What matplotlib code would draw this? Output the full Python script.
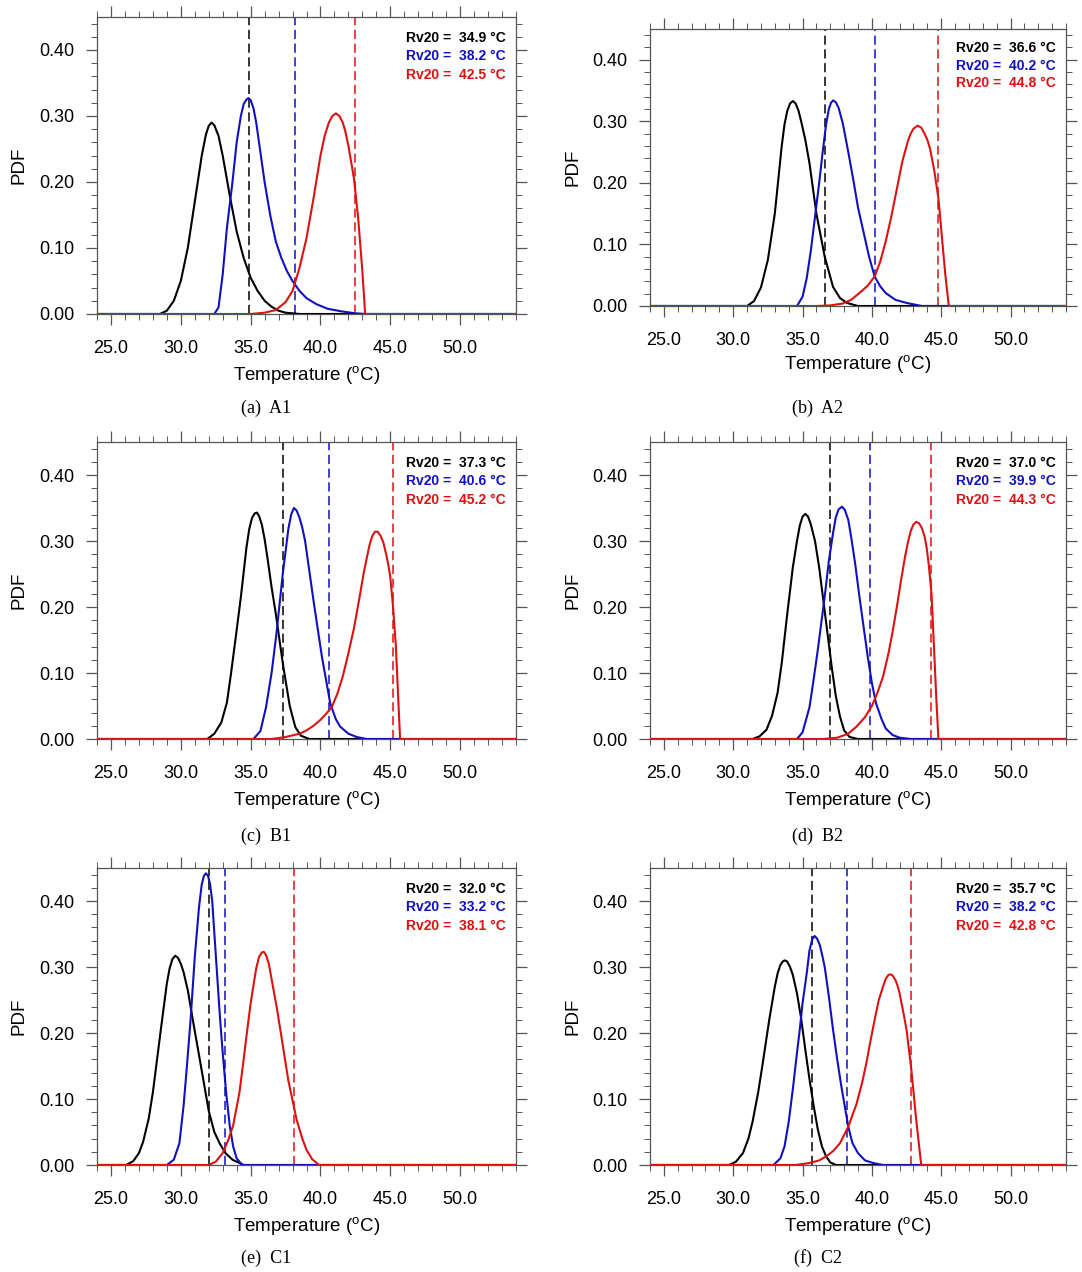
import matplotlib
matplotlib.use("Agg")
import matplotlib.pyplot as plt
from matplotlib.ticker import MultipleLocator, FormatStrFormatter

plt.rcParams['font.family'] = ['Liberation Sans', 'DejaVu Sans']
plt.rcParams['mathtext.fontset'] = 'custom'
plt.rcParams['mathtext.rm'] = 'Liberation Sans'

# ---------------- data ----------------
panels = ['A1', 'A2', 'B1', 'B2', 'C1', 'C2']
letters = ['a', 'b', 'c', 'd', 'e', 'f']

# Rv20 values (black, blue, red)
rv20 = {
    'A1': [34.9, 38.2, 42.5],
    'A2': [36.6, 40.2, 44.8],
    'B1': [37.3, 40.6, 45.2],
    'B2': [37.0, 39.9, 44.3],
    'C1': [32.0, 33.2, 38.1],
    'C2': [35.7, 38.2, 42.8],
}

# A1
a1_black_t = [28.5, 29.0, 29.5, 30.0, 30.5, 31.0, 31.5, 31.8, 32.0, 32.2, 32.4, 32.7, 33.0, 33.5, 34.0, 34.5, 35.0, 35.5, 36.0, 36.5, 37.0, 37.5, 38.5]
a1_black_p = [0.0, 0.005, 0.02, 0.05, 0.10, 0.17, 0.24, 0.272, 0.285, 0.29, 0.286, 0.27, 0.24, 0.18, 0.125, 0.085, 0.055, 0.035, 0.02, 0.011, 0.005, 0.002, 0.0]
a1_blue_t = [32.4, 32.7, 33.0, 33.3, 33.7, 34.0, 34.3, 34.5, 34.7, 34.85, 35.0, 35.2, 35.4, 35.7, 36.0, 36.4, 36.8, 37.2, 37.6, 38.0, 38.5, 39.0, 39.7, 40.5, 41.5, 42.5, 43.2]
a1_blue_p = [0.0, 0.01, 0.06, 0.13, 0.20, 0.26, 0.30, 0.318, 0.325, 0.327, 0.324, 0.312, 0.29, 0.245, 0.20, 0.15, 0.11, 0.085, 0.065, 0.05, 0.035, 0.024, 0.015, 0.008, 0.004, 0.001, 0.0]
a1_red_t = [35.0, 36.0, 36.8, 37.5, 38.0, 38.5, 39.0, 39.5, 40.0, 40.3, 40.6, 40.85, 41.1, 41.35, 41.6, 41.8, 42.0, 42.4, 42.7, 43.0, 43.2]
a1_red_p = [0.0, 0.002, 0.006, 0.018, 0.035, 0.07, 0.115, 0.175, 0.24, 0.27, 0.29, 0.30, 0.304, 0.30, 0.29, 0.275, 0.255, 0.205, 0.145, 0.065, 0.0]

# A2
a2_black_t = [31.0, 31.5, 32.0, 32.5, 33.0, 33.5, 33.7, 33.9, 34.1, 34.3, 34.5, 34.7, 34.9, 35.2, 35.5, 36.0, 36.6, 37.2, 37.7, 38.2, 39.0]
a2_black_p = [0.0, 0.008, 0.03, 0.075, 0.15, 0.26, 0.295, 0.317, 0.329, 0.333, 0.329, 0.318, 0.30, 0.27, 0.232, 0.15, 0.08, 0.031, 0.013, 0.005, 0.0]
a2_blue_t = [34.6, 35.0, 35.3, 35.6, 35.9, 36.2, 36.45, 36.7, 36.9, 37.05, 37.2, 37.4, 37.6, 37.9, 38.3, 38.7, 39.0, 39.4, 39.8, 40.2, 40.6, 41.0, 41.7, 42.5, 43.6]
a2_blue_p = [0.0, 0.015, 0.045, 0.09, 0.145, 0.20, 0.25, 0.295, 0.32, 0.33, 0.334, 0.331, 0.322, 0.297, 0.25, 0.20, 0.16, 0.12, 0.08, 0.048, 0.032, 0.021, 0.01, 0.005, 0.0]
a2_red_t = [36.0, 37.0, 37.9, 38.5, 39.1, 39.7, 40.2, 40.6, 41.0, 41.4, 41.8, 42.2, 42.6, 42.8, 43.0, 43.3, 43.55, 43.8, 44.0, 44.2, 44.5, 44.8, 45.1, 45.3, 45.55]
a2_red_p = [0.0, 0.001, 0.004, 0.01, 0.021, 0.033, 0.048, 0.072, 0.105, 0.145, 0.19, 0.235, 0.268, 0.28, 0.288, 0.293, 0.29, 0.28, 0.27, 0.255, 0.22, 0.175, 0.10, 0.05, 0.0]

# B1
b1_black_t = [31.9, 32.4, 32.9, 33.3, 33.6, 34.0, 34.3, 34.7, 34.9, 35.1, 35.3, 35.45, 35.6, 35.8, 36.0, 36.2, 36.5, 36.8, 37.3, 37.8, 38.2, 38.6, 39.2]
b1_black_p = [0.0, 0.008, 0.025, 0.055, 0.10, 0.165, 0.215, 0.29, 0.318, 0.335, 0.342, 0.343, 0.338, 0.325, 0.303, 0.275, 0.23, 0.19, 0.115, 0.05, 0.018, 0.005, 0.0]
b1_blue_t = [35.2, 35.7, 36.1, 36.5, 36.85, 37.3, 37.7, 37.9, 38.1, 38.3, 38.5, 38.7, 38.9, 39.2, 39.5, 40.1, 40.7, 41.1, 41.4, 42.0, 42.6, 43.3]
b1_blue_p = [0.0, 0.012, 0.048, 0.10, 0.16, 0.25, 0.318, 0.34, 0.35, 0.346, 0.335, 0.32, 0.30, 0.255, 0.21, 0.125, 0.054, 0.03, 0.019, 0.008, 0.003, 0.0]
b1_red_t = [36.5, 37.5, 38.5, 39.0, 39.5, 40.0, 40.4, 40.8, 41.2, 41.6, 42.0, 42.4, 42.8, 43.1, 43.5, 43.7, 43.9, 44.1, 44.3, 44.5, 44.7, 44.85, 45.0, 45.2, 45.4, 45.55, 45.7]
b1_red_p = [0.0, 0.003, 0.008, 0.013, 0.02, 0.029, 0.038, 0.048, 0.068, 0.095, 0.13, 0.168, 0.215, 0.252, 0.293, 0.307, 0.314, 0.314, 0.308, 0.298, 0.28, 0.265, 0.245, 0.20, 0.14, 0.07, 0.0]

# B2
b2_black_t = [31.4, 31.9, 32.4, 32.8, 33.2, 33.5, 33.9, 34.3, 34.6, 34.8, 35.0, 35.2, 35.4, 35.6, 35.9, 36.2, 36.5, 37.1, 37.4, 37.7, 38.0, 38.4, 39.0]
b2_black_p = [0.0, 0.004, 0.014, 0.035, 0.07, 0.115, 0.19, 0.26, 0.30, 0.323, 0.337, 0.341, 0.337, 0.325, 0.30, 0.26, 0.21, 0.11, 0.065, 0.034, 0.013, 0.003, 0.0]
b2_blue_t = [34.6, 35.0, 35.5, 35.8, 36.1, 36.6, 36.9, 37.2, 37.4, 37.6, 37.85, 38.05, 38.3, 38.5, 38.8, 39.1, 39.7, 40.0, 40.3, 40.7, 41.0, 41.5, 42.0, 42.8]
b2_blue_p = [0.0, 0.01, 0.048, 0.09, 0.135, 0.216, 0.27, 0.312, 0.336, 0.348, 0.352, 0.347, 0.332, 0.307, 0.265, 0.216, 0.125, 0.085, 0.054, 0.03, 0.016, 0.006, 0.002, 0.0]
b2_red_t = [36.5, 37.5, 38.3, 38.9, 39.5, 40.0, 40.4, 40.8, 41.2, 41.5, 41.8, 42.1, 42.4, 42.6, 42.8, 43.0, 43.2, 43.4, 43.6, 43.8, 43.95, 44.1, 44.3, 44.5, 44.65, 44.8]
b2_red_p = [0.0, 0.002, 0.008, 0.019, 0.033, 0.05, 0.07, 0.094, 0.13, 0.163, 0.20, 0.24, 0.277, 0.298, 0.315, 0.325, 0.329, 0.327, 0.32, 0.307, 0.29, 0.265, 0.22, 0.13, 0.06, 0.0]

# C1
c1_black_t = [26.1, 26.6, 27.0, 27.3, 27.7, 28.0, 28.3, 28.6, 29.0, 29.2, 29.4, 29.6, 29.8, 30.0, 30.2, 30.5, 30.9, 31.4, 32.0, 32.4, 32.8, 33.2, 33.7, 34.5]
c1_black_p = [0.0, 0.006, 0.018, 0.035, 0.07, 0.11, 0.16, 0.21, 0.275, 0.298, 0.312, 0.317, 0.314, 0.305, 0.292, 0.265, 0.215, 0.155, 0.082, 0.05, 0.032, 0.018, 0.008, 0.0]
c1_blue_t = [29.0, 29.5, 29.9, 30.2, 30.4, 30.7, 31.0, 31.3, 31.5, 31.65, 31.8, 31.95, 32.1, 32.25, 32.5, 32.8, 33.0, 33.25, 33.5, 33.75, 34.0, 34.4]
c1_blue_p = [0.0, 0.008, 0.033, 0.09, 0.14, 0.22, 0.315, 0.39, 0.425, 0.438, 0.442, 0.438, 0.425, 0.40, 0.32, 0.225, 0.17, 0.109, 0.06, 0.028, 0.01, 0.0]
c1_red_t = [32.0, 32.5, 33.0, 33.4, 33.75, 34.2, 34.5, 34.7, 35.0, 35.2, 35.4, 35.6, 35.8, 35.95, 36.1, 36.3, 36.6, 36.9, 37.2, 37.7, 38.3, 38.7, 39.0, 39.4, 39.9]
c1_red_p = [0.0, 0.005, 0.018, 0.038, 0.06, 0.11, 0.16, 0.195, 0.245, 0.272, 0.298, 0.315, 0.322, 0.323, 0.318, 0.305, 0.27, 0.235, 0.195, 0.128, 0.068, 0.04, 0.023, 0.009, 0.0]

# C2
c2_black_t = [29.7, 30.2, 30.7, 31.1, 31.4, 31.8, 32.1, 32.6, 33.0, 33.2, 33.4, 33.6, 33.75, 33.9, 34.1, 34.3, 34.6, 34.9, 35.2, 35.5, 35.8, 36.1, 36.4, 36.7, 37.0, 37.4]
c2_black_p = [0.0, 0.005, 0.018, 0.04, 0.066, 0.11, 0.15, 0.22, 0.27, 0.29, 0.303, 0.309, 0.31, 0.308, 0.30, 0.288, 0.26, 0.222, 0.175, 0.13, 0.09, 0.054, 0.028, 0.013, 0.004, 0.0]
c2_blue_t = [32.9, 33.4, 33.7, 34.0, 34.3, 34.6, 34.8, 35.0, 35.3, 35.5, 35.7, 35.87, 36.05, 36.25, 36.45, 36.6, 36.9, 37.2, 37.5, 37.8, 38.3, 38.6, 39.0, 39.5, 40.1, 40.8]
c2_blue_p = [0.0, 0.01, 0.028, 0.065, 0.115, 0.17, 0.205, 0.245, 0.29, 0.325, 0.342, 0.347, 0.343, 0.333, 0.315, 0.30, 0.255, 0.205, 0.16, 0.119, 0.058, 0.033, 0.018, 0.007, 0.003, 0.0]
c2_red_t = [34.5, 35.5, 36.2, 36.7, 37.2, 37.7, 38.3, 38.9, 39.3, 39.6, 39.9, 40.2, 40.5, 40.8, 41.0, 41.2, 41.35, 41.5, 41.7, 41.85, 42.0, 42.3, 42.5, 42.85, 43.2, 43.4, 43.56]
c2_red_p = [0.0, 0.003, 0.007, 0.013, 0.021, 0.033, 0.058, 0.093, 0.125, 0.154, 0.188, 0.22, 0.25, 0.27, 0.282, 0.288, 0.289, 0.287, 0.28, 0.272, 0.26, 0.228, 0.205, 0.144, 0.068, 0.03, 0.0]

curves = {
    'A1': [(a1_black_t, a1_black_p), (a1_blue_t, a1_blue_p), (a1_red_t, a1_red_p)],
    'A2': [(a2_black_t, a2_black_p), (a2_blue_t, a2_blue_p), (a2_red_t, a2_red_p)],
    'B1': [(b1_black_t, b1_black_p), (b1_blue_t, b1_blue_p), (b1_red_t, b1_red_p)],
    'B2': [(b2_black_t, b2_black_p), (b2_blue_t, b2_blue_p), (b2_red_t, b2_red_p)],
    'C1': [(c1_black_t, c1_black_p), (c1_blue_t, c1_blue_p), (c1_red_t, c1_red_p)],
    'C2': [(c2_black_t, c2_black_p), (c2_blue_t, c2_blue_p), (c2_red_t, c2_red_p)],
}

colors = ['#000000', '#1010c0', '#dd1111']
XMIN, XMAX = 24, 54
YMAX = 0.45

# ---------------- layout (pixel boxes: left, right, top, bottom) ----------------
W, H = 1082, 1272
boxes = [(97, 516, 17, 314), (650, 1066, 29, 306),
         (97, 516, 442, 739), (650, 1066, 442, 739),
         (97, 516, 868, 1165), (650, 1066, 868, 1165)]
caption_xy = [(266, 408), (818, 408), (266, 836), (818, 836), (266, 1258), (818, 1258)]

fig = plt.figure(figsize=(W / 100, H / 100), dpi=100)

for i, name in enumerate(panels):
    l, r, t, b = boxes[i]
    ax = fig.add_axes([l / W, 1 - b / H, (r - l) / W, (b - t) / H])

    for k in range(3):
        ax.axvline(rv20[name][k], color=colors[k], lw=1.1, ls=(0, (6, 3)), zorder=2)

    for k in range(3):
        tt, pp = curves[name][k]
        xs = [XMIN] + list(tt) + [XMAX]
        ys = [0.0] + list(pp) + [0.0]
        ax.plot(xs, ys, color=colors[k], lw=1.5, zorder=3,
                solid_joinstyle='round', solid_capstyle='round')

    for k in range(3):
        ax.text(0.975, 0.93 - k * 0.062,
                'Rv20 =  %.1f °C' % rv20[name][k],
                transform=ax.transAxes, ha='right', va='center',
                fontsize=10, fontweight='bold', color=colors[k])

    ax.set_xlim(XMIN, XMAX)
    ax.set_ylim(0, YMAX)
    ax.xaxis.set_major_locator(MultipleLocator(5))
    ax.xaxis.set_minor_locator(MultipleLocator(1))
    ax.yaxis.set_major_locator(MultipleLocator(0.1))
    ax.yaxis.set_minor_locator(MultipleLocator(0.02))
    ax.xaxis.set_major_formatter(FormatStrFormatter('%.1f'))
    ax.yaxis.set_major_formatter(FormatStrFormatter('%.2f'))
    ax.tick_params(which='both', direction='out', top=True, right=True,
                   color='#555555', labelsize=13)
    ax.tick_params(which='major', length=8, width=0.9, pad=8)
    ax.tick_params(axis='x', which='major', pad=11)
    ax.tick_params(which='minor', length=4, width=0.7)
    for s in ax.spines.values():
        s.set_color('#555555')
        s.set_linewidth(0.9)

    ax.set_xlabel('Temperature ($\\mathregular{^{o}}$C)', fontsize=13.5)
    ax.set_ylabel('PDF', fontsize=13.5)
    ax.xaxis.set_label_coords(0.5, -0.17)
    ax.yaxis.set_label_coords(-0.165, 0.5)

    cx, cy = caption_xy[i]
    fig.text(cx / W, 1 - cy / H, '(%s)  %s' % (letters[i], name),
             ha='center', va='center', fontsize=13, family='Liberation Serif')

fig.savefig('out.png', dpi=100)
